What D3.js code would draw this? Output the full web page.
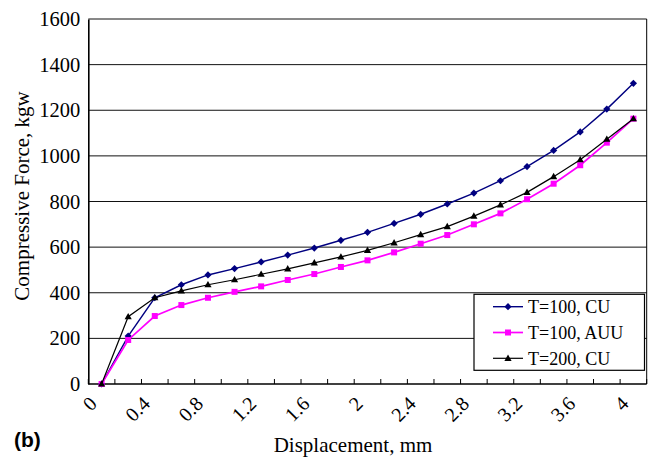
<!DOCTYPE html>
<html>
<head>
<meta charset="utf-8">
<script src="https://cdn.jsdelivr.net/npm/d3@7/dist/d3.min.js"></script>
<style>
  body { margin: 0; background: #fff; }
  svg text { fill: #000; }
</style>
</head>
<body>
<div id="chart"></div>
<script>
// displacement categories (mm), one every 0.2
const displacement = ["0", "0.2", "0.4", "0.6", "0.8", "1", "1.2", "1.4", "1.6", "1.8", "2",
                      "2.2", "2.4", "2.6", "2.8", "3", "3.2", "3.4", "3.6", "3.8", "4"];
const xTickLabels = ["0", "0.4", "0.8", "1.2", "1.6", "2", "2.4", "2.8", "3.2", "3.6", "4"];
const yTicks = [0, 200, 400, 600, 800, 1000, 1200, 1400, 1600];

// compressive force, kgw
const forceT100CU  = [0, 210, 378, 435, 478, 506, 535, 565, 596, 630, 665,
                      704, 744, 789, 837, 891, 953, 1024, 1105, 1205, 1318];
const forceT100AUU = [0, 193, 298, 346, 378, 404, 428, 456, 482, 513, 542,
                      577, 615, 653, 700, 748, 810, 878, 959, 1058, 1163];
const forceT200CU  = [0, 295, 378, 408, 435, 457, 481, 505, 531, 557, 586,
                      619, 655, 690, 736, 785, 840, 909, 983, 1073, 1163];

const seriesNames = ["T=100, CU", "T=100, AUU", "T=200, CU"];

const W = 650, H = 461;
const plotL = 88.3, plotR = 646.7, plotT = 19, plotB = 384;
const SERIF = '"Liberation Serif", "Times New Roman", serif';

const svg = d3.select('#chart').append('svg')
      .attr('width', W)
      .attr('height', H)
      .attr('font-family', SERIF);

const x = d3.scaleBand()
      .domain(displacement)
      .range([plotL, plotR])
      .padding(0);

const y = d3.scaleLinear()
      .domain([0, 1600])
      .range([plotB, plotT]);

const cx = d => x(d) + x.bandwidth() / 2;

// gridlines
svg.append('g')
  .selectAll('line')
  .data(yTicks.filter(v => v > 0))
  .enter().append('line')
  .attr('x1', plotL).attr('x2', plotR)
  .attr('y1', d => y(d)).attr('y2', d => y(d))
  .attr('stroke', '#111')
  .attr('stroke-width', 1);

// right border
svg.append('line')
  .attr('x1', plotR).attr('x2', plotR)
  .attr('y1', plotT).attr('y2', plotB)
  .attr('stroke', '#000');

// y axis
const yAxis = svg.append('g')
      .attr('transform', `translate(${plotL},0)`)
      .call(d3.axisLeft(y).tickValues(yTicks).tickFormat(d3.format('d')).tickSize(0).tickPadding(8))
      .attr('font-family', SERIF)
      .attr('font-size', 20.5);
yAxis.select('.domain').attr('stroke', '#000').attr('stroke-width', 1.6);

// x axis: ticks between categories, pointing up into the plot
const bounds = displacement.map(d => x(d)).concat([plotR]);
svg.append('g')
  .selectAll('line')
  .data(bounds)
  .enter().append('line')
  .attr('x1', d => d).attr('x2', d => d)
  .attr('y1', plotB).attr('y2', plotB - 5)
  .attr('stroke', '#000');

svg.append('line')
  .attr('x1', plotL).attr('x2', plotR)
  .attr('y1', plotB).attr('y2', plotB)
  .attr('stroke', '#000')
  .attr('stroke-width', 1.6);

svg.append('g')
  .attr('font-family', SERIF)
  .attr('font-size', 20)
  .selectAll('text')
  .data(displacement.filter(d => xTickLabels.includes(d)))
  .enter().append('text')
  .attr('transform', d => `translate(${cx(d) - 8.5},400)rotate(-45)`)
  .attr('text-anchor', 'end')
  .attr('dy', '0.35em')
  .text(d => d);

// markers
const markers = [
  (g, color) => g.append('path').attr('d', 'M0,-3.6L3.6,0L0,3.6L-3.6,0Z').attr('fill', color),
  (g, color) => g.append('rect').attr('x', -3).attr('y', -3).attr('width', 6).attr('height', 6).attr('fill', color),
  (g, color) => g.append('path').attr('d', 'M0,-3.8L3.6,2.6L-3.6,2.6Z').attr('fill', color)
];

const series = [
  { name: seriesNames[0], values: forceT100CU,  color: '#000080', width: 1.4, marker: markers[0] },
  { name: seriesNames[1], values: forceT100AUU, color: '#ff00ff', width: 1.7, marker: markers[1] },
  { name: seriesNames[2], values: forceT200CU,  color: '#000000', width: 1.2, marker: markers[2] }
];

const line = d3.line()
      .x((d, i) => cx(displacement[i]))
      .y(d => y(d));

for (let s of series) {
  svg.append('path')
    .datum(s.values)
    .attr('fill', 'none')
    .attr('stroke', s.color)
    .attr('stroke-width', s.width)
    .attr('d', line);

  s.values.forEach((v, i) => {
    const g = svg.append('g').attr('transform', `translate(${cx(displacement[i])},${y(v)})`);
    s.marker(g, s.color);
  });
}

// legend
const lg = svg.append('g');
lg.append('rect')
  .attr('x', 474).attr('y', 294.3)
  .attr('width', 170.5).attr('height', 76)
  .attr('fill', '#fff')
  .attr('stroke', '#000')
  .attr('stroke-width', 1.2);

series.forEach((s, i) => {
  const ry = 306.7 + i * 25.8;
  lg.append('line')
    .attr('x1', 493).attr('x2', 523)
    .attr('y1', ry).attr('y2', ry)
    .attr('stroke', s.color)
    .attr('stroke-width', s.width);
  s.marker(lg.append('g').attr('transform', `translate(508,${ry})`), s.color);
  lg.append('text')
    .attr('x', 528).attr('y', ry)
    .attr('dy', '0.35em')
    .attr('font-size', 18)
    .text(s.name);
});

// axis titles
svg.append('text')
  .attr('x', 353).attr('y', 452)
  .attr('text-anchor', 'middle')
  .attr('font-size', 21)
  .text('Displacement, mm');

svg.append('text')
  .attr('transform', 'translate(29,196)rotate(-90)')
  .attr('text-anchor', 'middle')
  .attr('font-size', 21)
  .text('Compressive Force, kgw');

svg.append('text')
  .attr('x', 14).attr('y', 447)
  .style('font-family', '"Liberation Sans", Arial, sans-serif')
  .style('font-weight', 'bold')
  .style('font-size', '21px')
  .text('(b)');
</script>
</body>
</html>
